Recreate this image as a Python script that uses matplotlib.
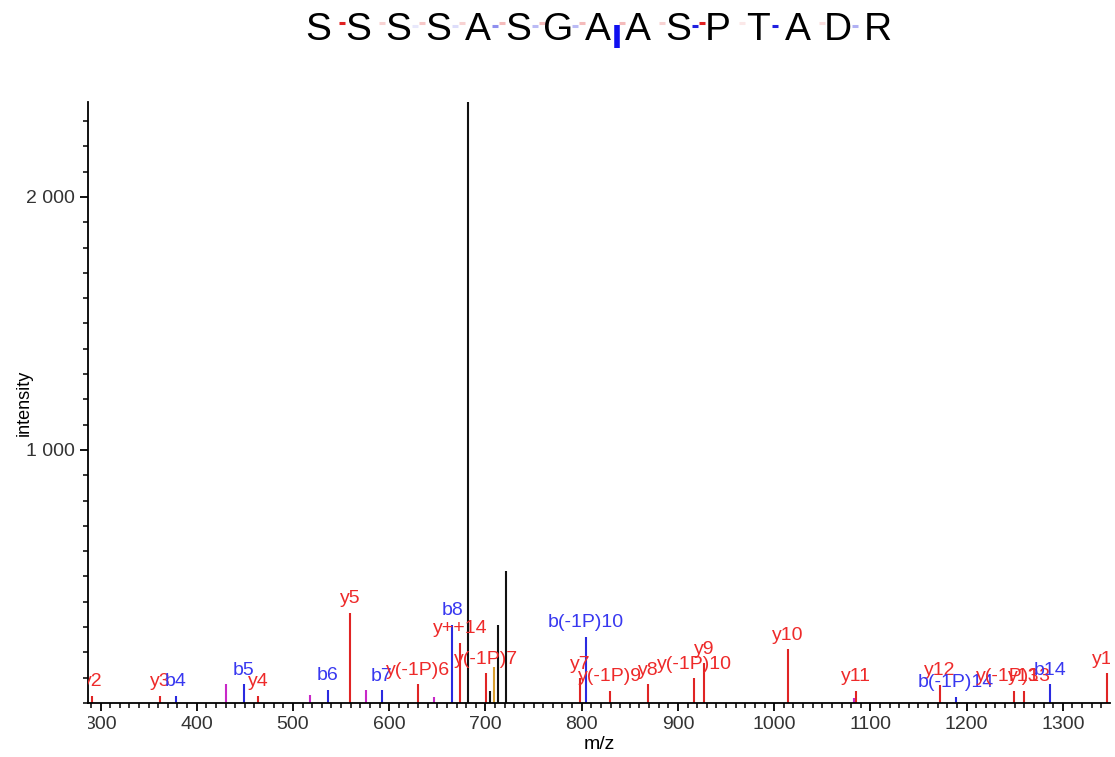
import matplotlib
matplotlib.use("Agg")
import matplotlib.pyplot as plt
from matplotlib.lines import Line2D
from matplotlib.ticker import MultipleLocator, FixedLocator
from matplotlib.transforms import Bbox, TransformedBbox, blended_transform_factory

plt.rcParams['font.family'] = ['Liberation Sans', 'DejaVu Sans']

W, H = 1115, 757

# peptide sequence shown above the spectrum
sequence = list("SSSSASGAASPTADR")
# fragment markers between residues: (gap index, red alpha, blue alpha)
gap_marks = [(0, 1.0, 0.0), (1, 0.2, 0.0), (2, 0.25, 0.1), (3, 0.2, 0.15),
             (4, 0.3, 0.5), (5, 0.3, 0.3), (6, 0.3, 0.3), (7, 0.3, 0.0),
             (8, 0.2, 0.0), (9, 1.0, 1.0), (10, 0.1, 0.0), (11, 0.0, 1.0),
             (12, 0.15, 0.0), (13, 0.0, 0.35)]
big_bar_gap = 7

# peaks: m/z, intensity, ion type, label
mz = [291.0, 362.0, 378.5, 430.5, 449.0, 463.6, 517.7, 536.4, 559.3, 576.0,
      592.5, 630.2, 646.6, 665.6, 673.6, 682.2, 700.9, 704.7, 708.9, 713.0,
      721.7, 798.3, 804.1, 829.4, 868.9, 916.7, 927.0, 1014.0, 1083.0, 1085.0,
      1172.2, 1188.5, 1248.8, 1259.5, 1286.2, 1346.4]
intensity = [28, 28, 28, 74, 74, 28, 30, 51, 357, 51,
             50, 74, 22, 308, 238, 2380, 117, 47, 143, 308,
             523, 97, 262, 47, 74, 97, 157, 212, 20, 47,
             71, 25, 47, 47, 74, 117]
ion = ['y', 'y', 'b', 'm', 'b', 'y', 'm', 'b', 'y', 'm',
       'b', 'y', 'm', 'b', 'y', 'k', 'y', 'k', 'o', 'k',
       'k', 'y', 'b', 'y', 'y', 'y', 'y', 'y', 'm', 'y',
       'y', 'b', 'y', 'y', 'b', 'y']
labels = ['y2', 'y3', 'b4', '', 'b5', 'y4', '', 'b6', 'y5', '',
          'b7', 'y(-1P)6', '', 'b8', 'y++14', '', 'y(-1P)7', '', '', '',
          '', 'y7', 'b(-1P)10', 'y(-1P)9', 'y8', 'y(-1P)10', 'y9', 'y10', '', 'y11',
          'y12', 'b(-1P)14', 'y(-1P)13', 'y13', 'b14', 'y14']

colors = {'y': '#e02424', 'b': '#2a2ae0', 'm': '#c828c8', 'k': '#111111', 'o': '#d9a030'}
label_colors = {'y': '#ee2a2a', 'b': '#3838f0'}

fig = plt.figure(figsize=(W / 100, H / 100), dpi=100)
ax = fig.add_axes([88 / W, 1 - 703 / H, (1110 - 88) / W, (703 - 102) / H])

for x, h, t, lab in zip(mz, intensity, ion, labels):
    ax.vlines(x, 0, h, color=colors[t], lw=1.5)
    if lab:
        ax.annotate(lab, (x, h), xytext=(0, 7), textcoords='offset points',
                    ha='center', va='baseline', fontsize=14,
                    color=label_colors[t], annotation_clip=False, clip_on=True)

ax.set_xlim(287, 1349)
ax.set_ylim(0, 2375)
for s in ['top', 'right']:
    ax.spines[s].set_visible(False)
for s in ['left', 'bottom']:
    ax.spines[s].set_linewidth(1.3)

ax.xaxis.set_major_locator(MultipleLocator(100))
ax.xaxis.set_minor_locator(MultipleLocator(10))
ax.yaxis.set_major_locator(FixedLocator([1000, 2000]))
ax.yaxis.set_minor_locator(MultipleLocator(100))
ax.set_yticklabels(['1 000', '2 000'])
ax.tick_params(which='major', length=6, width=1.3, labelsize=14, labelcolor='#333333')
ax.tick_params(which='minor', length=3.5, width=1.1)
ax.set_xlabel('m/z', fontsize=14, labelpad=2)
ax.set_ylabel('intensity', fontsize=13)
ax.yaxis.set_label_coords(-0.054, 0.5)

# clip x tick labels to the plot width, as in the original viewer
clipbox = TransformedBbox(Bbox([[0, 0], [1, 1]]),
                          blended_transform_factory(ax.transAxes, fig.transFigure))
fig.canvas.draw()
for tick in ax.xaxis.get_major_ticks():
    tick.label1.set_clip_box(clipbox)
    tick.label1.set_clip_on(True)


def fx(px):
    return px / W


def fy(py):
    return 1 - py / H


# sequence with fragment markers
x0, step = 318, 40
for i, aa in enumerate(sequence):
    fig.text(fx(x0 + i * step), fy(40), aa, fontsize=28, ha='center', va='baseline')

for g, ra, ba in gap_marks:
    c = x0 + (g + 0.5) * step
    if ra > 0:
        fig.add_artist(Line2D([fx(c + 1), fx(c + 7)], [fy(22.5), fy(22.5)], color='#e02020',
                              alpha=ra, lw=2.2, solid_capstyle='butt'))
    if ba > 0:
        fig.add_artist(Line2D([fx(c - 6), fx(c)], [fy(25.5), fy(25.5)], color='#2020e0',
                              alpha=ba, lw=2.2, solid_capstyle='butt'))

cb = x0 + (big_bar_gap + 0.5) * step - 1
fig.add_artist(Line2D([fx(cb), fx(cb)], [fy(25), fy(48)], color='#1010f0',
                      lw=4, solid_capstyle='butt'))

fig.savefig('out.png', dpi=100, facecolor='white')
